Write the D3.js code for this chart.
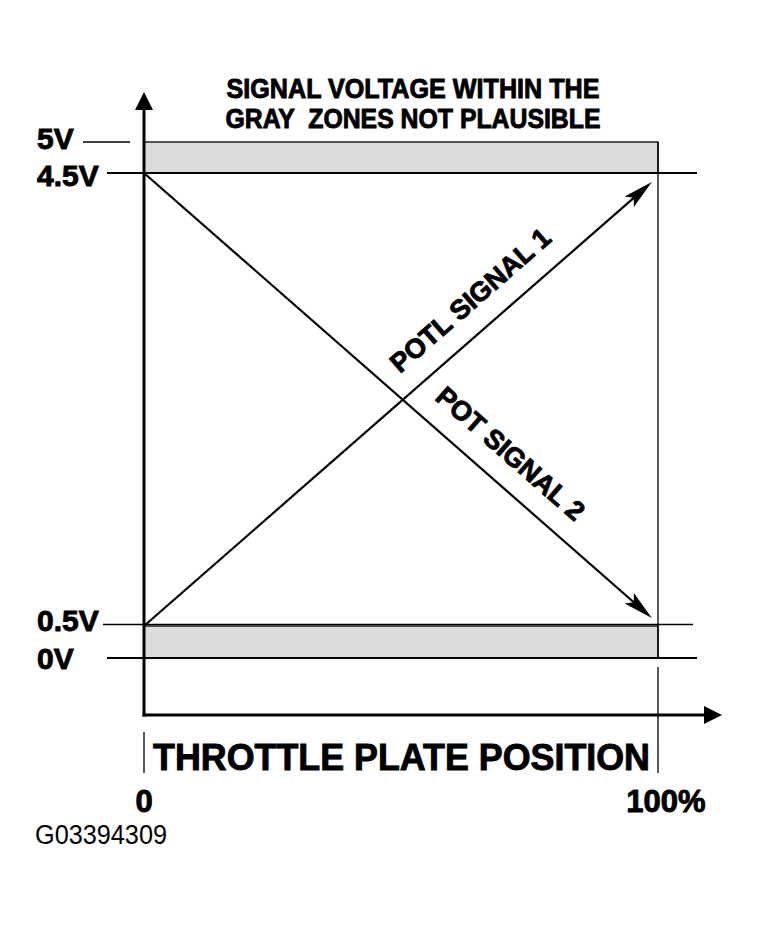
<!DOCTYPE html>
<html>
<head>
<meta charset="utf-8">
<script src="https://cdn.jsdelivr.net/npm/d3@7"></script>
<style>
  body { margin: 0; background: #fff; }
  text { font-family: "Liberation Sans", Arial, sans-serif; fill: #000; }
  text.heavy { font-weight: bold; stroke: #000; stroke-width: 0.9; paint-order: stroke; }
</style>
</head>
<body>
<div id="container"></div>
<script>
// values
const voltTicks      = [0, 0.5, 4.5, 5];
const voltLabels     = ["0V", "0.5V", "4.5V", "5V"];
const grayZones      = [[0, 0.5], [4.5, 5]];
const positionTicks  = [0, 100];
const positionLabels = ["0", "100%"];
const signal1        = [{ pos: 0, volt: 0.5 }, { pos: 98.8, volt: 4.42 }];
const signal2        = [{ pos: 0, volt: 4.5 }, { pos: 98.8, volt: 0.57 }];
const signalNames    = ["POTL SIGNAL 1", "POT SIGNAL 2"];
const titleLines     = ["SIGNAL VOLTAGE WITHIN THE", "GRAY  ZONES NOT PLAUSIBLE"];
const xTitle         = "THROTTLE PLATE POSITION";
const figureId       = "G03394309";

// layout
const width = 760, height = 931;
const axisY = 715, axisTop = 92, axisRight = 722;
const tickSpans   = [[107, 697], [103, 693], [107, 697], [83, 130]];
const tickWidths  = [2, 1.3, 2, 1.3];
const labelShift  = [0, -6, 2, -4];

const svg = d3.select("#container")
  .append("svg")
    .attr("width", width)
    .attr("height", height);

const x = d3.scaleLinear().domain([0, 100]).range([144, 658]);
// schematic voltage axis: the gray zones are drawn wider than true scale
const y = d3.scaleLinear().domain(voltTicks).range([658, 626, 173, 142]);

// gray zones
svg.selectAll("rect.zone")
  .data(grayZones)
  .join("rect")
    .attr("class", "zone")
    .attr("x", x(0))
    .attr("y", d => y(d[1]))
    .attr("width", x(100) - x(0))
    .attr("height", d => y(d[0]) - y(d[1]))
    .attr("fill", "#dcdcdc")
    .attr("stroke", "#000")
    .attr("stroke-width", 1.3);

// voltage reference lines
svg.selectAll("line.vtick")
  .data(voltTicks)
  .join("line")
    .attr("class", "vtick")
    .attr("x1", (d, i) => tickSpans[i][0])
    .attr("x2", (d, i) => tickSpans[i][1])
    .attr("y1", d => y(d) - (d === 0.5 ? 1.5 : 0))
    .attr("y2", d => y(d) - (d === 0.5 ? 1.5 : 0))
    .attr("stroke", "#000")
    .attr("stroke-width", (d, i) => tickWidths[i]);

svg.selectAll("text.vlabel")
  .data(voltTicks)
  .join("text")
    .attr("class", "vlabel heavy")
    .attr("x", 37)
    .attr("y", (d, i) => y(d) + labelShift[i])
    .attr("dy", "0.36em")
    .attr("font-size", 30)
    .text((d, i) => voltLabels[i]);

// right edge of the plausible range
svg.append("line")
  .attr("x1", x(100)).attr("x2", x(100))
  .attr("y1", y(5)).attr("y2", y(0))
  .attr("stroke", "#000").attr("stroke-width", 1.3);

// axes with arrowheads
svg.append("line")
  .attr("x1", x(0)).attr("x2", x(0))
  .attr("y1", axisY + 1.5).attr("y2", axisTop + 12)
  .attr("stroke", "#000").attr("stroke-width", 3);
svg.append("polygon")
  .attr("points", [[x(0), axisTop], [x(0) - 9, axisTop + 18], [x(0) + 9, axisTop + 18]].join(" "));

svg.append("line")
  .attr("x1", x(0) - 1.5).attr("x2", axisRight - 12)
  .attr("y1", axisY).attr("y2", axisY)
  .attr("stroke", "#000").attr("stroke-width", 3);
svg.append("polygon")
  .attr("points", [[axisRight, axisY], [axisRight - 18, axisY - 9], [axisRight - 18, axisY + 9]].join(" "));

// position ticks under the axis
const posTickTop = [732, 667];
svg.selectAll("line.ptick")
  .data(positionTicks)
  .join("line")
    .attr("class", "ptick")
    .attr("x1", d => x(d)).attr("x2", d => x(d))
    .attr("y1", (d, i) => posTickTop[i]).attr("y2", 773)
    .attr("stroke", "#000").attr("stroke-width", 1.3);

svg.selectAll("text.plabel")
  .data(positionTicks)
  .join("text")
    .attr("class", "plabel heavy")
    .attr("x", d => x(d) + (d === 100 ? 8 : 0))
    .attr("y", 812)
    .attr("text-anchor", "middle")
    .attr("font-size", 31)
    .text((d, i) => positionLabels[i]);

svg.append("text")
  .attr("class", "heavy")
  .attr("x", 153)
  .attr("y", 770)
  .attr("font-size", 36)
  .attr("textLength", 497)
  .attr("lengthAdjust", "spacingAndGlyphs")
  .text(xTitle);

// title
svg.selectAll("text.title")
  .data(titleLines)
  .join("text")
    .attr("class", "title heavy")
    .attr("x", 413)
    .attr("y", (d, i) => 98 + i * 30)
    .attr("text-anchor", "middle")
    .attr("font-size", 27)
    .attr("textLength", (d, i) => i === 0 ? 373 : 375)
    .attr("lengthAdjust", "spacingAndGlyphs")
    .style("white-space", "pre")
    .text(d => d);

// signal lines
const signals = [signal1, signal2];
signals.forEach((s, i) => {
  const p0 = [x(s[0].pos), y(s[0].volt)];
  const p1 = [x(s[1].pos), y(s[1].volt)];
  const dx = p1[0] - p0[0], dy = p1[1] - p0[1];
  const len = Math.hypot(dx, dy);
  const ux = dx / len, uy = dy / len;
  const headLen = 30, headW = 7, notch = 24;

  svg.append("line")
    .attr("x1", p0[0]).attr("y1", p0[1])
    .attr("x2", p1[0] - ux * notch).attr("y2", p1[1] - uy * notch)
    .attr("stroke", "#000").attr("stroke-width", 2.2);

  const bx = p1[0] - ux * headLen, by = p1[1] - uy * headLen;
  svg.append("polygon")
    .attr("points", [
      p1,
      [bx - uy * headW, by + ux * headW],
      [p1[0] - ux * notch, p1[1] - uy * notch],
      [bx + uy * headW, by - ux * headW]
    ].join(" "));

  // label sits above the line in its own frame
  const f = 0.682, off = 31;
  const nx = uy, ny = -ux;
  const cx = p0[0] + dx * f + nx * off;
  const cy = p0[1] + dy * f + ny * off;
  const ang = Math.atan2(dy, dx) * 180 / Math.PI;
  svg.append("text")
    .attr("class", "heavy")
    .attr("transform", `translate(${cx},${cy}) rotate(${ang})`)
    .attr("text-anchor", "middle")
    .attr("dy", "0.36em")
    .attr("font-size", 27)
    .text(signalNames[i]);
});

svg.append("text")
  .attr("x", 35)
  .attr("y", 844)
  .attr("font-size", 27)
  .attr("textLength", 132)
  .attr("lengthAdjust", "spacingAndGlyphs")
  .text(figureId);
</script>
</body>
</html>
